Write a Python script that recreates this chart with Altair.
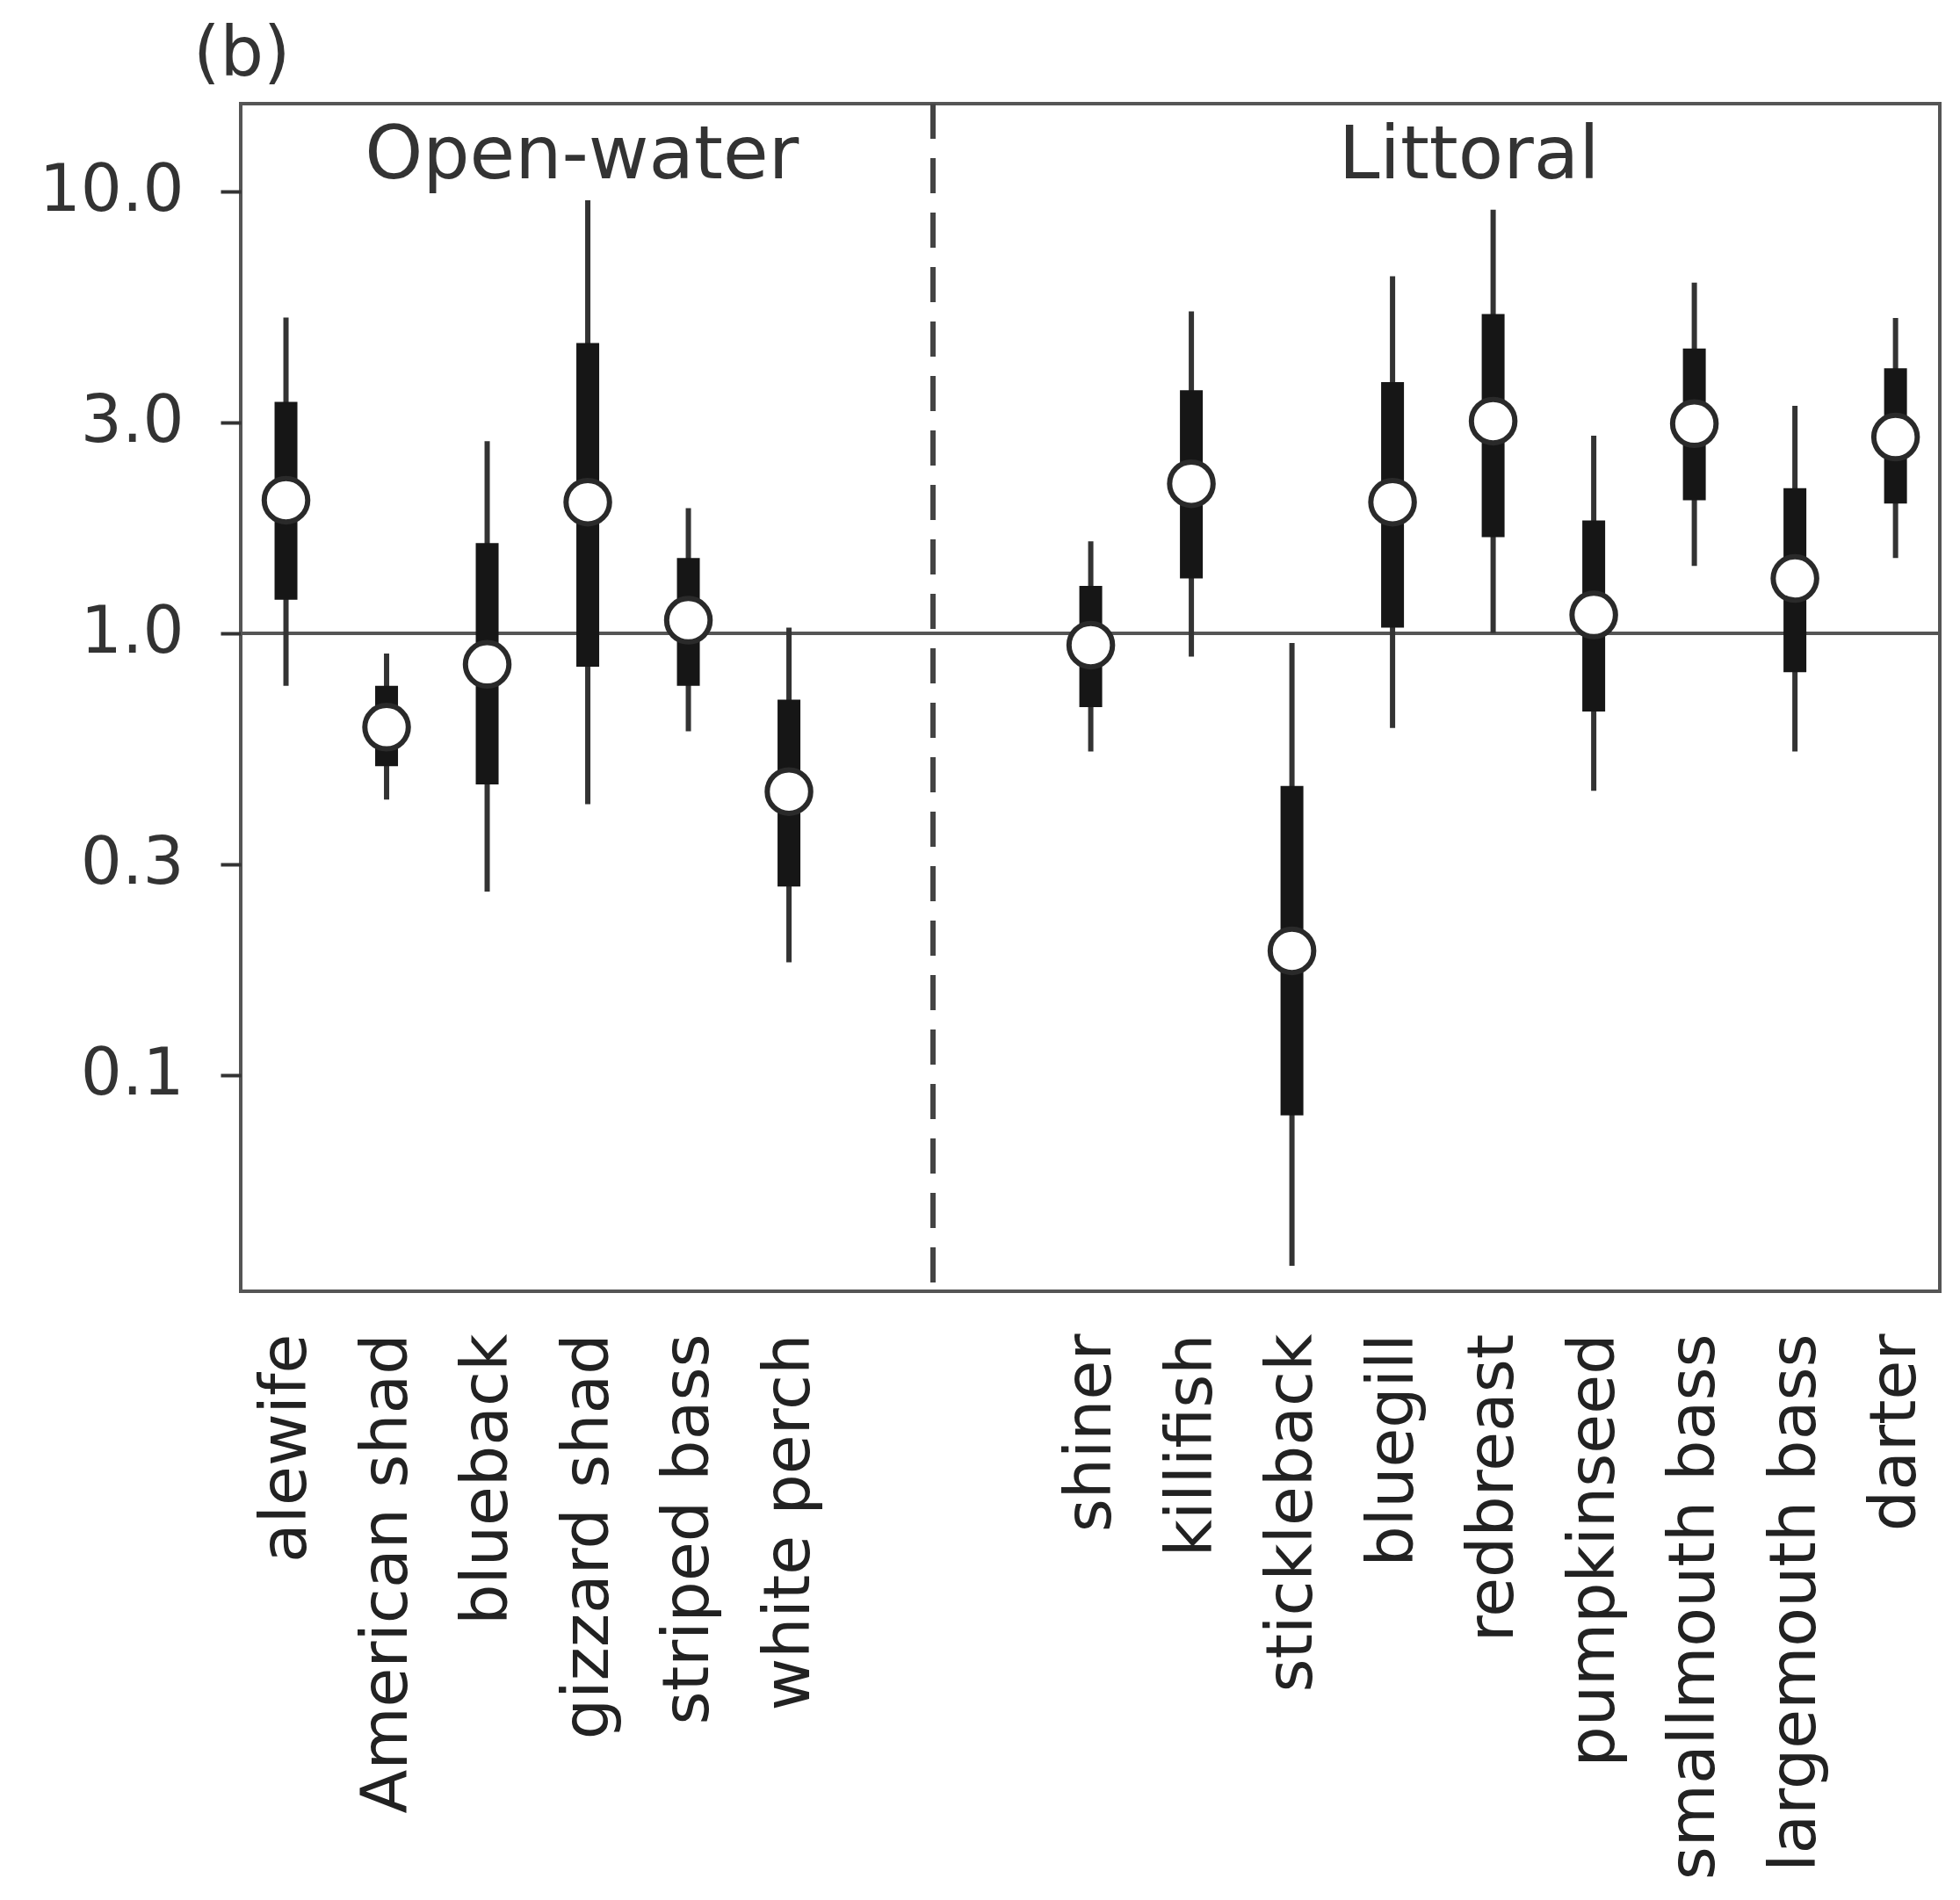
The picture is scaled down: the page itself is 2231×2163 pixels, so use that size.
import altair as alt
import pandas as pd

species = ["alewife", "American shad", "blueback", "gizzard shad", "striped bass", "white perch",
           "shiner", "killifish", "stickleback", "bluegill", "redbreast", "pumpkinseed",
           "smallmouth bass", "largemouth bass", "darter"]
position = [0, 1, 2, 3, 4, 5, 8, 9, 10, 11, 12, 13, 14, 15, 16]
lo95 = [0.76, 0.42, 0.26, 0.41, 0.60, 0.18, 0.54, 0.885, 0.037, 0.61, 1.00, 0.44, 1.42, 0.54, 1.48]
lo50 = [1.19, 0.50, 0.455, 0.84, 0.76, 0.267, 0.68, 1.33, 0.081, 1.03, 1.65, 0.665, 2.00, 0.816, 1.965]
median = [2.00, 0.613, 0.85, 1.98, 1.07, 0.438, 0.94, 2.18, 0.191, 1.98, 3.02, 1.10, 2.98, 1.33, 2.78]
hi50 = [3.34, 0.76, 1.60, 4.54, 1.48, 0.707, 1.28, 3.55, 0.451, 3.70, 5.28, 1.80, 4.41, 2.13, 3.98]
hi95 = [5.18, 0.90, 2.72, 9.55, 1.92, 1.03, 1.615, 5.35, 0.95, 6.43, 9.09, 2.80, 6.22, 3.27, 5.17]

y_ticks = [0.1, 0.3, 1.0, 3.0, 10.0]
groups = ["Open-water", "Littoral"]
group_x = [2.94, 11.76]
divider_x = 6.43

df = pd.DataFrame({"species": species, "pos": position, "lo95": lo95, "lo50": lo50,
                   "med": median, "hi50": hi50, "hi95": hi95})
gdf = pd.DataFrame({"group": groups, "gx": group_x, "gy": [12.0, 12.0]})

label_arr = []
for i in range(17):
    label_arr.append(species[position.index(i)] if i in position else "")
label_expr = "[" + ",".join("'" + s + "'" for s in label_arr) + "][datum.value]"

xscale = alt.Scale(domain=[-0.45, 16.44], nice=False, zero=False)
yscale = alt.Scale(type="log", domain=[0.0324, 15.8], nice=False)

x_enc = alt.X("pos:Q", scale=xscale, title=None,
              axis=alt.Axis(values=position, labelExpr=label_expr, labelAngle=-90,
                            ticks=False, grid=False, domain=False, labelPadding=48,
                            labelLimit=0, labelOverlap=False,
                            labelFontSize=73, labelFont="DejaVu Sans", labelColor="#222"))
y_axis = alt.Axis(values=y_ticks, format=".1f", grid=False, domain=False,
                  tickSize=23, tickWidth=4, tickColor="#333", labelPadding=42,
                  labelFontSize=74, labelFont="DejaVu Sans", labelColor="#333")

base = alt.Chart(df)

thin = base.mark_rule(color="#333", strokeWidth=6).encode(
    x=x_enc,
    y=alt.Y("lo95:Q", scale=yscale, axis=y_axis, title=None),
    y2="hi95:Q")
thick = base.mark_rule(color="#161616", strokeWidth=26, strokeCap="butt").encode(
    x="pos:Q", y="lo50:Q", y2="hi50:Q")
pts = base.mark_point(shape="circle", filled=True, fill="white", stroke="#2a2a2a",
                      strokeWidth=6, size=2450, opacity=1).encode(
    x="pos:Q", y="med:Q")

hline = alt.Chart(df).mark_rule(color="#555", strokeWidth=3).encode(y=alt.datum(1.0))
vline = alt.Chart(df).mark_rule(color="#444", strokeWidth=5, strokeDash=[40, 22]).encode(
    x=alt.datum(divider_x))
gtext = alt.Chart(gdf).mark_text(fontSize=84, font="DejaVu Sans", color="#333",
                                 baseline="middle", align="center").encode(
    x="gx:Q", y="gy:Q", text="group:N")

chart = alt.layer(hline, vline, thin, thick, pts, gtext).properties(
    width=1934, height=1352,
    padding={"left": 274, "top": 118, "right": 23, "bottom": 693},
    autosize=alt.AutoSizeParams(type="none"),
    title=alt.TitleParams("(b)", anchor="start", frame="group", fontSize=78,
                          font="DejaVu Sans", fontWeight="normal", color="#333",
                          dx=-54, offset=14),
).configure_view(stroke="#555", strokeWidth=4)

chart.save("out.html", embed_options={"renderer": "svg", "actions": False})
